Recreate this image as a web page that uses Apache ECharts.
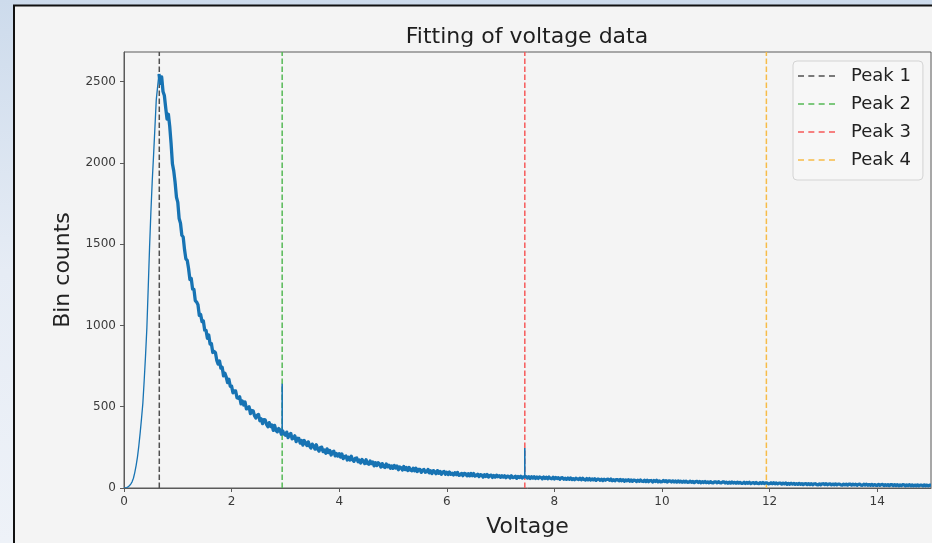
<!DOCTYPE html>
<html>
<head>
<meta charset="utf-8">
<title>Fitting of voltage data</title>
<script src="https://cdn.jsdelivr.net/npm/echarts@6/dist/echarts.min.js"></script>
<style>
  html, body { margin: 0; padding: 0; background: #dfe7f2; }
  #chart { width: 932px; height: 543px; }
</style>
</head>
<body>
<div id="chart"></div>
<script>
// Histogram of measured voltages: bins start at 0 V and are 0.025 V wide.
const binStart = 0;
const binWidth = 0.025;

// Bin counts, one row per volt (40 bins each), last entry is the 15.000 V bin.
const counts = [
  0, 1, 3, 7, 14, 24, 38, 60, 95, 138, 190, 258, 338, 425, 520, 660, 812, 985, 1230, 1480,
  1700, 1890, 2050, 2220, 2390, 2470, 2548, 2490, 2530, 2440, 2415, 2340, 2270, 2300, 2225, 2120, 1995, 1950, 1880, 1790,
  1758, 1658, 1629, 1555, 1545, 1467, 1410, 1401, 1351, 1283, 1289, 1224, 1222, 1153, 1144, 1128, 1062, 1067, 1024, 1028,
  971, 970, 921, 941, 886, 888, 834, 840, 832, 785, 762, 782, 738, 743, 690, 707, 683, 649, 669, 626,
  627, 586, 597, 597, 556, 552, 561, 518, 536, 511, 529, 487, 490, 500, 458, 477, 475, 445, 431, 447,
  453, 414, 426, 396, 421, 419, 391, 377, 402, 378, 388, 355, 385, 354, 346, 366, 357, 331, 351, 332,
  325, 344, 310, 327, 336, 302, 307, 321, 285, 306, 305, 276, 292, 264, 292, 277, 261, 284, 258, 246,
  270, 259, 239, 266, 240, 227, 249, 251, 224, 234, 214, 241, 218, 231, 203, 222, 226, 198, 212, 196,
  211, 190, 209, 181, 194, 197, 172, 190, 172, 195, 173, 164, 182, 185, 161, 172, 154, 175, 165, 150,
  174, 152, 146, 166, 150, 160, 136, 155, 138, 155, 148, 129, 150, 132, 126, 148, 130, 140, 122, 136,
  121, 138, 123, 135, 112, 129, 125, 111, 132, 113, 126, 108, 126, 110, 106, 122, 106, 122, 101, 114,
  115, 96, 110, 114, 97, 100, 114, 93, 106, 89, 107, 100, 88, 107, 91, 102, 84, 97, 102, 85,
  97, 83, 98, 84, 91, 80, 94, 82, 96, 78, 80, 90, 76, 90, 87, 75, 88, 75, 89, 76,
  89, 73, 77, 85, 70, 82, 80, 67, 82, 71, 83, 67, 76, 79, 65, 77, 67, 79, 69, 75,
  66, 76, 67, 75, 63, 73, 71, 62, 75, 64, 66, 73, 60, 71, 64, 72, 61, 69, 68, 70,
  61, 70, 59, 69, 61, 70, 59, 67, 59, 68, 65, 57, 67, 59, 66, 57, 67, 59, 57, 66,
  56, 65, 58, 63, 54, 62, 63, 54, 60, 53, 61, 54, 62, 52, 58, 51, 60, 56, 52, 60,
  51, 60, 52, 49, 58, 50, 58, 49, 56, 50, 57, 47, 54, 55, 47, 54, 46, 54, 48, 53,
  54, 47, 55, 45, 51, 44, 52, 51, 44, 53, 44, 51, 42, 50, 44, 51, 42, 49, 41, 49,
  47, 40, 48, 41, 49, 42, 40, 48, 40, 48, 39, 45, 46, 37, 46, 40, 47, 38, 44, 38,
  39, 46, 40, 45, 37, 44, 43, 37, 44, 37, 43, 36, 44, 37, 42, 35, 42, 36, 42, 35,
  36, 42, 35, 40, 33, 39, 41, 34, 40, 32, 39, 34, 40, 33, 38, 32, 39, 33, 32, 38,
  38, 32, 39, 33, 31, 37, 38, 31, 36, 29, 36, 30, 37, 31, 35, 29, 36, 30, 35, 29,
  29, 35, 28, 34, 29, 35, 27, 32, 33, 27, 34, 28, 27, 33, 28, 34, 27, 32, 32, 26,
  27, 32, 26, 32, 26, 31, 25, 30, 30, 24, 30, 25, 31, 23, 28, 23, 29, 24, 28, 22,
  27, 22, 28, 23, 27, 21, 26, 27, 21, 26, 21, 26, 20, 25, 26, 21, 20, 25, 20, 25,
  26, 21, 26, 20, 24, 25, 19, 24, 20, 25, 19, 24, 24, 19, 18, 24, 19, 24, 18, 23,
  24, 18, 23, 19, 23, 17, 22, 23, 18, 17, 23, 18, 23, 17, 21, 17, 22, 16, 21, 17,
  17, 22, 16, 21, 22, 15, 20, 16, 21, 15, 20, 21, 15, 20, 15, 20, 14, 19, 15, 20,
  19, 14, 19, 15, 20, 14, 19, 13, 18, 14, 19, 13, 18, 18, 13, 19, 14, 18, 13, 18,
  17
];

// The steep leading edge (up to the maximum bin) is drawn with a finer stroke.
const leadingEdgeLastBin = 26;

// Narrow calibration lines sitting on top of the continuum.
const spikeVolts = [2.94, 7.45];
const spikeTops = [642, 246];
const spikeBases = [345, 68];

// Fitted peak positions.
const peakNames = ['Peak 1', 'Peak 2', 'Peak 3', 'Peak 4'];
const peakVolts = [0.656, 2.94, 7.45, 11.94];
const peakColors = ['#505050', '#55b955', '#f65a5a', '#f7bc48'];

// Axis ticks.
const xTicks = [0, 2, 4, 6, 8, 10, 12, 14];
const yTicks = [0, 500, 1000, 1500, 2000, 2500];
const xMax = 15;
const yMax = 2683;

const FONT = 'DejaVu Sans';
const CURVE_COLOR = '#1773b3';

// Build the curve as (voltage, count) pairs.
const binPairs = counts.map((c, i) => [+(binStart + i * binWidth).toFixed(3), c]);
const leadingEdge = binPairs.slice(0, leadingEdgeLastBin + 1);
const tail = binPairs.slice(leadingEdgeLastBin);
const spikes = spikeVolts.map((v, k) => [[v, spikeBases[k]], [v, spikeTops[k]]]);

const dashIcon = 'path://M0,0h6v1.5h-6zM10.3,0h6v1.5h-6zM20.6,0h6v1.5h-6zM30.9,0h6v1.5h-6z';

const peakSeries = peakNames.map((name, i) => ({
  name: name,
  type: 'line',
  data: [[peakVolts[i], 0], [peakVolts[i], yMax]],
  symbol: 'none',
  silent: true,
  z: 2,
  itemStyle: { color: peakColors[i] },
  lineStyle: { color: peakColors[i], width: 1.5, type: [5.5, 2.5] }
}));

// The noisy histogram is drawn as unsimplified polylines so every bin keeps its jitter.
const curveSeries = {
  name: 'Counts',
  type: 'custom',
  coordinateSystem: 'cartesian2d',
  data: binPairs,
  encode: { x: 0, y: 1 },
  silent: true,
  clip: true,
  z: 3,
  renderItem: (params, api) => {
    if (params.dataIndex !== 0) return null;
    const line = (pts, width) => ({
      type: 'polyline',
      shape: { points: pts.map(p => api.coord(p)) },
      style: { stroke: CURVE_COLOR, lineWidth: width, fill: null, lineJoin: 'round' }
    });
    return {
      type: 'group',
      children: [
        line(leadingEdge, 1.3),
        line(tail, 3.3),
        ...spikes.map(s => line(s, 1.6))
      ]
    };
  }
};

const chart = echarts.init(document.getElementById('chart'), null, { renderer: 'canvas' });

chart.setOption({
  animation: false,
  backgroundColor: {
    type: 'linear', x: 0, y: 0, x2: 0, y2: 1,
    colorStops: [
      { offset: 0, color: '#cddbec' },
      { offset: 0.5, color: '#e6ecf5' },
      { offset: 1, color: '#eef2f8' }
    ]
  },
  graphic: [
    {
      type: 'rect',
      z: -5,
      silent: true,
      shape: { x: 14, y: 5.5, width: 940, height: 560 },
      style: { fill: '#f4f4f4', stroke: '#111', lineWidth: 2 }
    },
    {
      type: 'text',
      x: 527,
      y: 37,
      silent: true,
      style: {
        text: 'Fitting of voltage data',
        fontSize: 22,
        fontFamily: FONT,
        fill: '#1e1e1e',
        textAlign: 'center',
        textVerticalAlign: 'middle'
      }
    }
  ],
  grid: {
    left: 124, right: 1, top: 52, bottom: 51,
    show: true,
    borderColor: '#5a5a5a',
    borderWidth: 1,
    backgroundColor: 'transparent'
  },
  legend: {
    data: peakNames.map(n => ({ name: n, icon: dashIcon })),
    orient: 'vertical',
    left: 793,
    top: 61,
    itemWidth: 37,
    itemHeight: 2,
    itemGap: 2,
    padding: [2, 12, 7, 5],
    borderColor: '#d4d4d4',
    borderWidth: 1,
    borderRadius: 4,
    backgroundColor: 'rgba(255,255,255,0.25)',
    selectedMode: false,
    textStyle: {
      fontSize: 18,
      fontFamily: FONT,
      color: '#222',
      lineHeight: 26,
      padding: [0, 0, 0, 11]
    }
  },
  xAxis: {
    type: 'value',
    min: 0,
    max: xMax,
    name: 'Voltage',
    nameLocation: 'middle',
    nameGap: 28,
    nameTextStyle: { fontSize: 22, fontFamily: FONT, color: '#222' },
    axisLine: { show: true, onZero: false, lineStyle: { color: '#5a5a5a', width: 1 } },
    axisTick: { show: true, customValues: xTicks, length: 4, lineStyle: { color: '#5a5a5a' } },
    axisLabel: { customValues: xTicks, fontSize: 12, fontFamily: FONT, color: '#3a3a3a', margin: 8,
                 formatter: v => String(v) },
    splitLine: { show: false }
  },
  yAxis: {
    type: 'value',
    min: 0,
    max: yMax,
    name: 'Bin counts',
    nameLocation: 'middle',
    nameGap: 42,
    nameTextStyle: { fontSize: 22, fontFamily: FONT, color: '#222' },
    axisLine: { show: true, onZero: false, lineStyle: { color: '#5a5a5a', width: 1 } },
    axisTick: { show: true, customValues: yTicks, length: 4, lineStyle: { color: '#5a5a5a' } },
    axisLabel: { customValues: yTicks, fontSize: 12, fontFamily: FONT, color: '#3a3a3a', margin: 8,
                 formatter: v => String(v) },
    splitLine: { show: false }
  },
  series: [
    ...peakSeries,
    curveSeries
  ]
});
</script>
</body>
</html>
